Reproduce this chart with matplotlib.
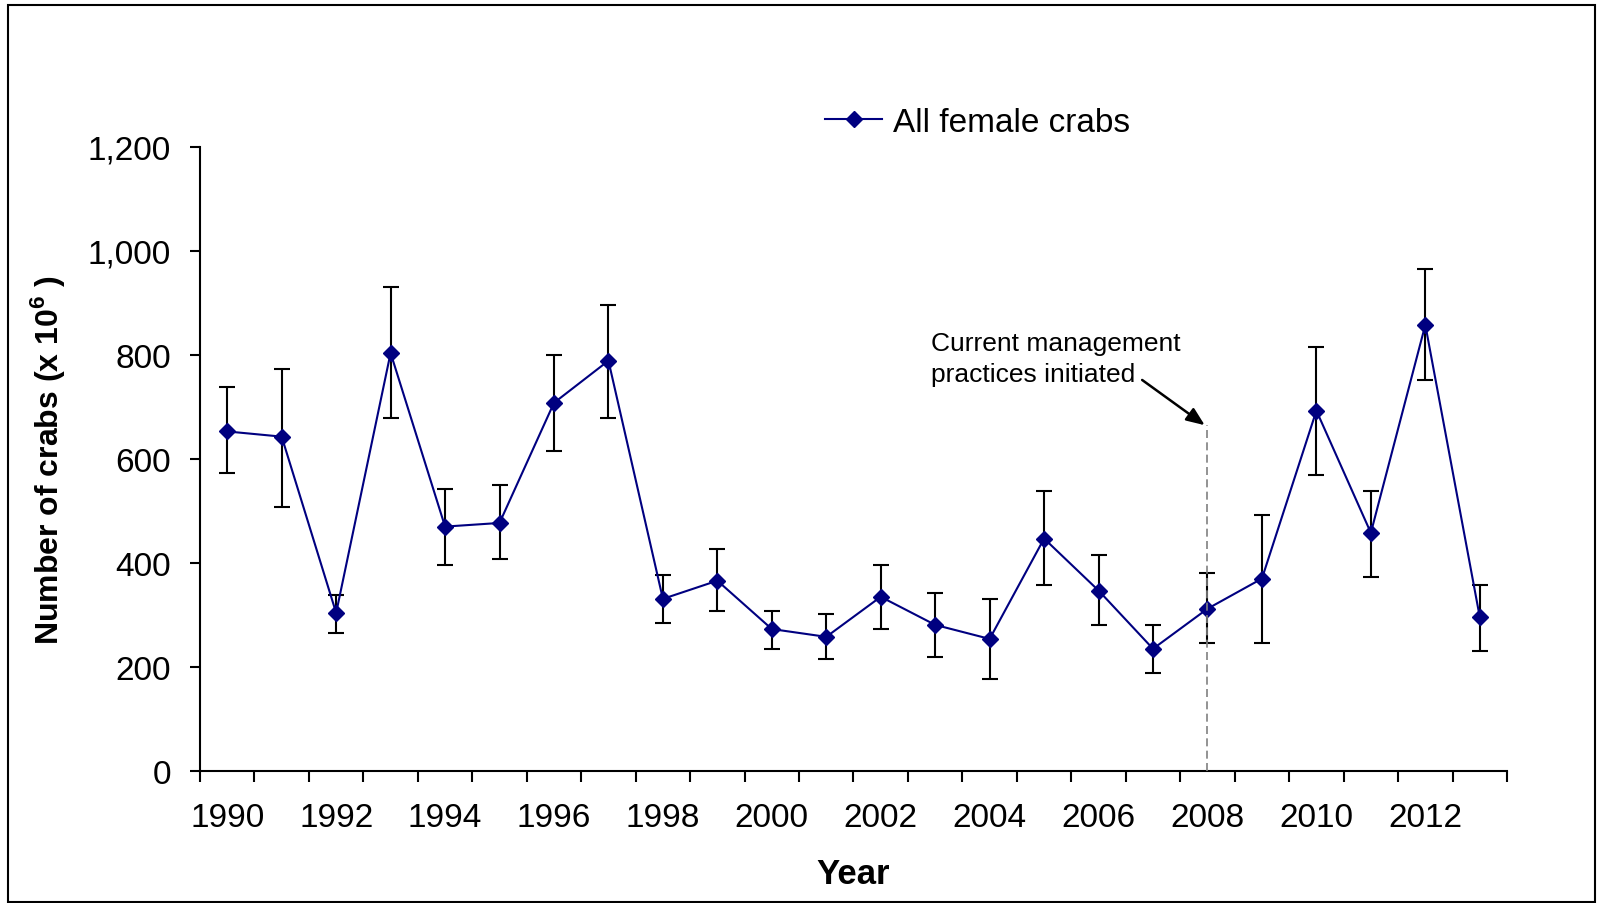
import numpy as np
import matplotlib
matplotlib.use("Agg")
import matplotlib.pyplot as plt
import matplotlib.ticker as mticker
from matplotlib.patches import Rectangle

# data
years = [1990, 1991, 1992, 1993, 1994, 1995, 1996, 1997, 1998, 1999, 2000, 2001,
         2002, 2003, 2004, 2005, 2006, 2007, 2008, 2009, 2010, 2011, 2012, 2013]
crabs = [653, 643, 304, 804, 470, 477, 708, 789, 331, 366, 273, 258,
         335, 281, 254, 447, 347, 235, 312, 370, 693, 458, 858, 296]
upper = [739, 774, 338, 931, 542, 550, 800, 897, 377, 427, 308, 301,
         396, 342, 331, 538, 415, 281, 381, 492, 815, 539, 965, 358]
lower = [574, 508, 266, 678, 397, 408, 616, 678, 285, 308, 235, 215,
         273, 219, 177, 358, 281, 189, 247, 246, 569, 373, 751, 231]
mgmt_year = 2008
mgmt_top = 665

plt.rcParams['font.family'] = ['Liberation Sans', 'DejaVu Sans']
plt.rcParams['mathtext.fontset'] = 'custom'
plt.rcParams['mathtext.rm'] = 'Liberation Sans'
plt.rcParams['mathtext.bf'] = 'Liberation Sans:bold'

W, H = 1597, 904
fig = plt.figure(figsize=(W / 100, H / 100), dpi=100)
ax = fig.add_axes([200 / W, 1 - 772 / H, (1507 - 200) / W, (772 - 148) / H])

x = np.arange(len(years))
vals = np.array(crabs)
yerr = [vals - np.array(lower), np.array(upper) - vals]

# error bars first, line on top
ax.errorbar(x, vals, yerr=yerr, fmt='none', ecolor='black', elinewidth=1.5,
            capsize=5.5, capthick=1.5, zorder=2)
ax.plot(x, vals, color='#000080', lw=1.5, marker='D', ms=8,
        mec='#000080', mfc='#000080', label='All female crabs', zorder=3)

# management line + arrow
xm = years.index(mgmt_year)
ax.plot([xm, xm], [0, mgmt_top], color='#808080', lw=1.2,
        linestyle=(0, (4.8, 2.6)), zorder=4)
ax.annotate('', xy=(xm - 0.05, mgmt_top), xytext=(16.8, 752),
            arrowprops=dict(arrowstyle='-|>,head_length=1.1,head_width=0.45',
                            color='black', lw=1.8, shrinkA=0, shrinkB=0))
ax.text(12.92, 794, 'Current management\npractices initiated', fontsize=19,
        ha='left', va='center', linespacing=1.38)

# axes
ax.set_xlim(-0.5, len(years) - 0.5)
ax.set_ylim(0, 1200)
ax.set_yticks(np.arange(0, 1201, 200))
ax.yaxis.set_major_formatter(mticker.FuncFormatter(lambda v, p: f'{v:,.0f}'))
ax.set_xticks(np.arange(-0.5, len(years), 1))
ax.set_xticklabels([])
ax.set_xticks(x[::2], minor=True)
ax.set_xticklabels([str(y) for y in years[::2]], minor=True)
ax.tick_params(axis='x', which='major', direction='out', length=8, width=1.5)
ax.tick_params(axis='x', which='minor', length=0, pad=22.5, labelsize=24)
ax.tick_params(axis='y', direction='out', length=7.5, width=1.5, pad=13.5, labelsize=24)
for s in ['top', 'right']:
    ax.spines[s].set_visible(False)
for s in ['left', 'bottom']:
    ax.spines[s].set_linewidth(1.5)

ax.set_xlabel('Year', fontsize=25, fontweight='bold')
ax.xaxis.label.set_verticalalignment('center')
ax.xaxis.set_label_coords(0.5, -0.165)
ax.set_ylabel(r'Number of crabs (x 10$^{\mathbf{6}}$ )', fontsize=23, fontweight='bold')
ax.yaxis.label.set_verticalalignment('center')
ax.yaxis.set_label_coords(-0.117, 0.5)

ax.legend(loc='center left', bbox_to_anchor=(825 / W, 1 - 123 / H),
          bbox_transform=fig.transFigure, frameon=False, fontsize=24,
          borderpad=0, borderaxespad=0, handlelength=1.72, handletextpad=0.33)

# outer frame
fig.patches.append(Rectangle((8 / W, 1 - 903 / H), (1595 - 8) / W, (903 - 6) / H,
                             transform=fig.transFigure, fill=False,
                             ec='black', lw=1.5))

fig.savefig('out.png', dpi=100)
